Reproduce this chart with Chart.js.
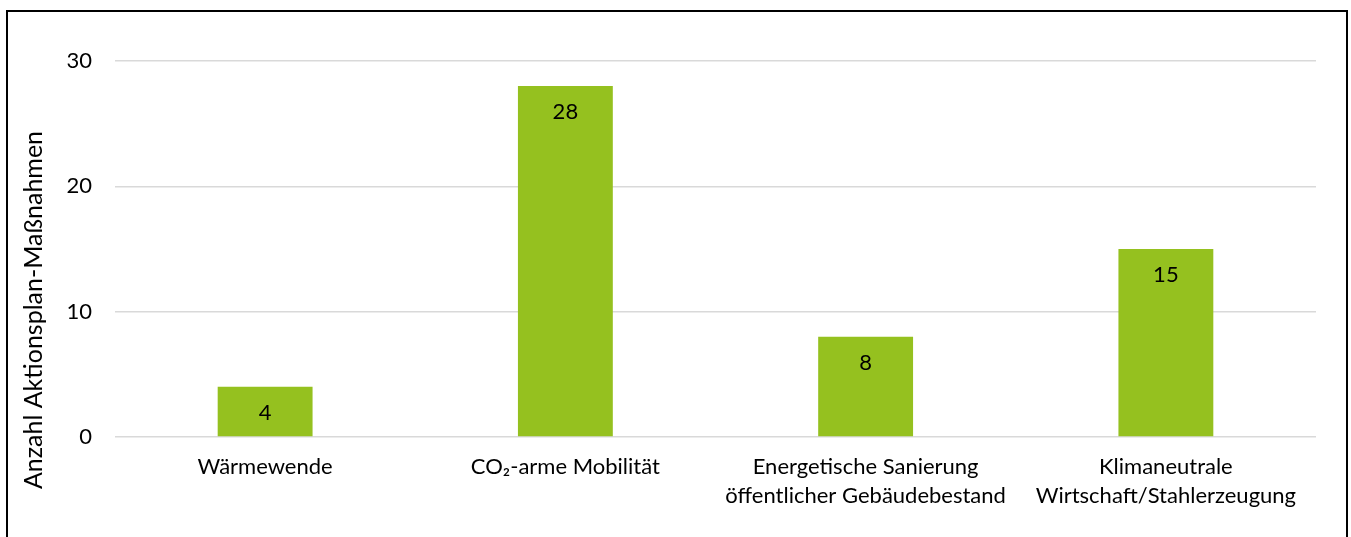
<!DOCTYPE html>
<html><head><meta charset="utf-8">
<script src="https://cdn.jsdelivr.net/npm/chart.js@4"></script>
<style>
html,body{margin:0;padding:0;background:#fff;}
#wrap{position:relative;width:1351px;height:537px;}
#frame{position:absolute;left:6px;top:10px;width:1338px;height:540px;border:2px solid #000;border-bottom:none;pointer-events:none;}
</style></head><body>
<div id="wrap"><canvas id="c" width="1351" height="537"></canvas><div id="frame"></div></div>
<script>
const categories = [["Wärmewende"], ["CO₂-arme Mobilität"], ["Energetische Sanierung","öffentlicher Gebäudebestand"], ["Klimaneutrale","Wirtschaft/Stahlerzeugung"]];
const values = [4, 28, 8, 15];
const yTicks = [0, 10, 20, 30];
const yTitle = "Anzahl Aktionsplan-Maßnahmen";
const FONT = "Lato, 'Open Sans', sans-serif";

const labelPlugin = {
  id: 'innerLabels',
  afterDatasetsDraw(chart) {
    const ctx = chart.ctx;
    const meta = chart.getDatasetMeta(0);
    ctx.save();
    ctx.font = "22px " + FONT;
    ctx.fillStyle = "#000";
    ctx.textAlign = "center";
    ctx.textBaseline = "middle";
    meta.data.forEach((bar, i) => {
      ctx.fillText(String(values[i]), bar.x, bar.y + 26);
    });
    ctx.restore();
  }
};

const titlePlugin = {
  id: 'yTitleText',
  afterDraw(chart) {
    const ctx = chart.ctx;
    ctx.save();
    ctx.translate(34, 310);
    ctx.rotate(-Math.PI / 2);
    ctx.font = "25px " + FONT;
    ctx.fillStyle = "#000";
    ctx.textAlign = "center";
    ctx.textBaseline = "middle";
    ctx.fillText(yTitle, 0, 0);
    ctx.restore();
  }
};

new Chart(document.getElementById('c'), {
  type: 'bar',
  data: { labels: categories, datasets: [{ data: values, backgroundColor: '#95c11f', borderWidth: 0, barPercentage: 1, categoryPercentage: 0.316 }] },
  options: {
    responsive: false, animation: false,
    layout: { padding: { left: 22, right: 35, top: 61, bottom: 0 } },
    plugins: { legend: { display: false }, tooltip: { enabled: false } },
    scales: {
      x: {
        grid: { display: false, drawTicks: false },
        border: { display: false },
        ticks: { color: '#000', font: { family: FONT, size: 22, lineHeight: 1.3 }, padding: 16, maxRotation: 0, autoSkip: false },
        afterFit(s) { s.height = 100; }
      },
      y: {
        min: 0, max: 30,
        afterBuildTicks(s) { s.ticks = yTicks.map(v => ({ value: v })); },
        grid: { color: '#d9d9d9', lineWidth: 1.5, drawTicks: false },
        border: { display: false },
        ticks: { color: '#000', font: { family: FONT, size: 22 }, padding: 23 },
        title: { display: false },
        afterFit(s) { s.width = 93; }
      }
    }
  },
  plugins: [labelPlugin, titlePlugin]
});
</script></body></html>
